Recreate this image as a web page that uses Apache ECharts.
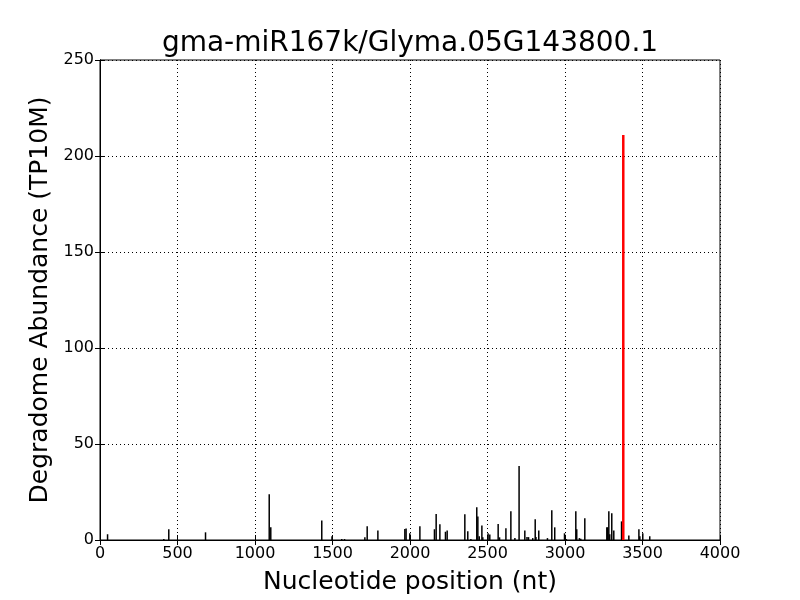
<!DOCTYPE html>
<html>
<head>
<meta charset="utf-8">
<script src="https://cdn.jsdelivr.net/npm/echarts@6/dist/echarts.min.js"></script>
<style>
  html, body { margin: 0; padding: 0; background: #fff; }
</style>
</head>
<body>
<div id="chart" style="width:800px;height:600px;"></div>
<script>
// cleavage positions (nt) and abundances (TP10M)
var positions = [52, 415, 447, 684, 1095, 1105, 1434, 1500, 1563, 1581, 1712, 1727, 1796,
  1970, 1978, 2002, 2067, 2161, 2172, 2196, 2232, 2243, 2357, 2376, 2396, 2434, 2441,
  2450, 2467, 2473, 2507, 2518, 2572, 2581, 2622, 2654, 2680, 2707, 2744, 2758, 2768,
  2795, 2811, 2816, 2834, 2890, 2918, 2937, 3000, 3012, 3073, 3079, 3096, 3105, 3131,
  3273, 3279, 3286, 3292, 3305, 3318, 3368, 3415, 3480, 3486, 3505, 3550];
var abundance = [3, 0.5, 5.6, 4, 23.8, 6.6, 10.2, 2, 0.5, 0.5, 1.4, 7.1, 5,
  5.7, 6, 3.5, 7.1, 5.6, 13.5, 8.2, 4.3, 5, 13.4, 4.5, 0.5, 17, 12.3,
  2, 7.6, 1.4, 3.5, 2.8, 8.3, 1.4, 6.1, 15, 1, 38.5, 5, 1.5, 1.5,
  1, 10.8, 1.5, 5, 1, 15.5, 6.6, 3.5, 0.5, 15, 5.6, 1, 0.7, 11.3,
  6.6, 6.6, 15, 3, 13.9, 5, 9.7, 2.4, 5.6, 2, 3.5, 2];
// miRNA target site
var sitePosition = 3376;
var siteAbundance = 210.9;

var xTicks = [0, 500, 1000, 1500, 2000, 2500, 3000, 3500, 4000];
var yTicks = [0, 50, 100, 150, 200, 250];

var font = 'DejaVu Sans';

var chart = echarts.init(document.getElementById('chart'));

var bars = positions.map(function (p, i) { return [p, abundance[i]]; });

var gridLine = { show: true, lineStyle: { color: '#000', type: [1, 3], width: 1 } };
var inTick = { show: true, inside: true, length: 5, lineStyle: { color: '#000' } };
var plain = function (v) { return String(v); };

chart.setOption({
  animation: false,
  backgroundColor: '#fff',
  title: {
    text: 'gma-miR167k/Glyma.05G143800.1',
    left: 405,
    top: 25,
    textAlign: 'center',
    textStyle: { fontFamily: font, fontWeight: 'normal', fontSize: 28, color: '#000' }
  },
  grid: {
    left: 100, right: 80, top: 60, bottom: 60,
    outerBoundsMode: 'none', containLabel: false,
    show: true, borderColor: '#000', borderWidth: 1, backgroundColor: 'transparent'
  },
  xAxis: [{
    type: 'value',
    min: xTicks[0], max: xTicks[xTicks.length - 1], interval: 500,
    name: 'Nucleotide position (nt)',
    nameLocation: 'middle', nameGap: 30,
    nameTextStyle: { fontFamily: font, fontSize: 25, color: '#000', verticalAlign: 'top' },
    axisLine: { show: true, lineStyle: { color: '#000' } },
    axisTick: inTick,
    axisLabel: { fontFamily: font, fontSize: 16, color: '#000', margin: 6, formatter: plain },
    splitLine: gridLine
  }, {
    type: 'value', position: 'top',
    min: xTicks[0], max: xTicks[xTicks.length - 1], interval: 500,
    axisLine: { show: true, lineStyle: { color: '#000' } },
    axisTick: inTick, axisLabel: { show: false }, splitLine: { show: false }
  }],
  yAxis: [{
    type: 'value',
    min: yTicks[0], max: yTicks[yTicks.length - 1], interval: 50,
    name: 'Degradome Abundance (TP10M)',
    nameLocation: 'middle', nameGap: 37,
    nameTextStyle: { fontFamily: font, fontSize: 25, color: '#000', verticalAlign: 'bottom' },
    axisLine: { show: true, lineStyle: { color: '#000' } },
    axisTick: inTick,
    axisLabel: { fontFamily: font, fontSize: 16, color: '#000', margin: 6, formatter: plain },
    splitLine: gridLine
  }, {
    type: 'value', position: 'right',
    min: yTicks[0], max: yTicks[yTicks.length - 1], interval: 50,
    axisLine: { show: true, lineStyle: { color: '#000' } },
    axisTick: inTick, axisLabel: { show: false }, splitLine: { show: false }
  }],
  series: [{
    type: 'bar',
    xAxisIndex: 0, yAxisIndex: 0,
    barWidth: 1.5,
    barGap: '-100%',
    itemStyle: { color: '#000' },
    data: bars
  }, {
    type: 'bar',
    xAxisIndex: 0, yAxisIndex: 0,
    barWidth: 2.5,
    barGap: '-100%',
    itemStyle: { color: '#f00' },
    data: [[sitePosition, siteAbundance]]
  }]
});
</script>
</body>
</html>
